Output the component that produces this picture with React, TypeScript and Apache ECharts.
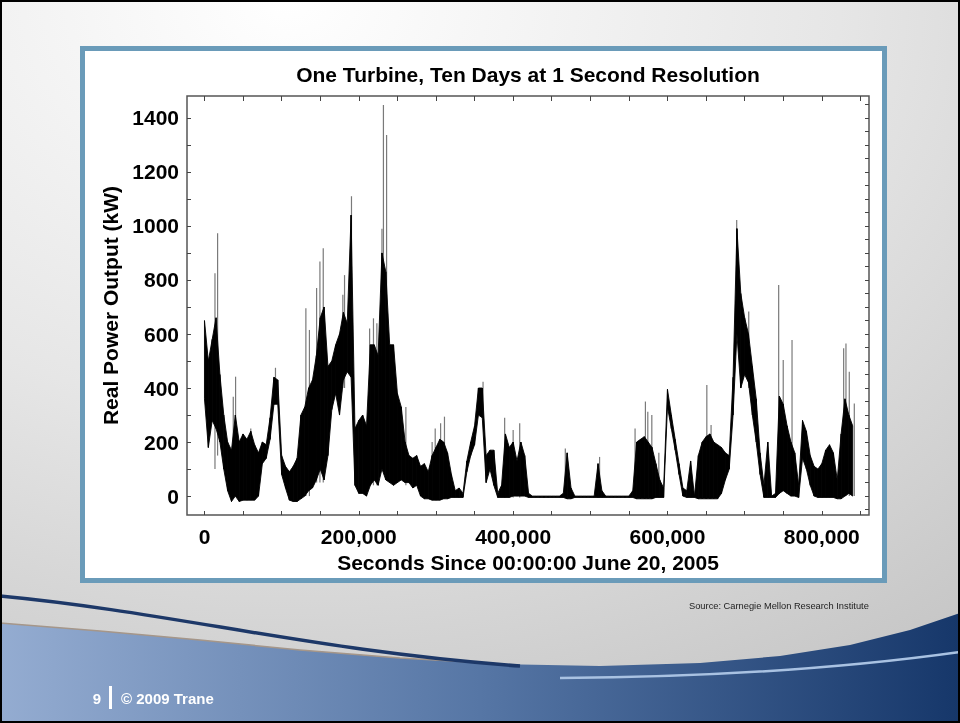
import React, { useEffect, useRef } from "react";
import * as echarts from "echarts";

// Envelope of the 1-second trace, read every 5,000 s (index * SAMPLE_STEP seconds)
const SAMPLE_STEP = 5000;
const upper = [
  650, 500, 580, 660, 450, 300, 200, 170, 300, 200,
  230, 210, 240, 190, 160, 200, 190, 290, 440, 430,
  150, 110, 90, 110, 140, 300, 330, 400, 430, 520,
  660, 700, 480, 500, 560, 600, 680, 640, 1040, 250,
  280, 300, 260, 560, 560, 520, 900, 830, 560, 560,
  380, 330, 200, 150, 140, 150, 110, 120, 90, 150,
  180, 210, 200, 160, 80, 20, 30, 10, 130, 200,
  260, 400, 400, 150, 170, 170, 10, 40, 230, 180,
  200, 130, 200, 150, 10, 0, 0, 0, 0, 0,
  0, 0, 0, 10, 160, 30, 0, 0, 0, 0,
  0, 0, 120, 20, 0, 0, 0, 0, 0, 0,
  0, 20, 200, 210, 220, 200, 180, 120, 60, 30,
  395, 300, 210, 120, 30, 20, 130, 0, 150, 200,
  220, 230, 200, 190, 180, 160, 150, 440, 990, 750,
  660, 600, 480, 360, 160, 40, 200, 0, 10, 370,
  340, 260, 200, 160, 40, 280, 240, 150, 110, 100,
  120, 170, 190, 160, 60, 230, 360, 300, 260,
];
const lower = [
  360, 180, 280, 250, 200, 100, 20, -20, 0, -20,
  -15, -15, -15, -15, 0, 120, 140, 210, 340, 340,
  80, 30, -15, -20, -20, -10, 0, 20, 30, 60,
  100, 60, 150, 320, 380, 300, 430, 460, 440, 40,
  10, 10, 0, 40, 60, 40, 100, 60, 50, 40,
  50, 60, 50, 50, 30, 40, 0, -10, -10, -15,
  -15, -15, -10, -10, -5, -5, -5, -5, 90, 150,
  190, 300, 290, 50, 100, 40, -5, -5, -5, -5,
  0, 0, 0, 0, -5, -5, -5, -5, -5, -5,
  -5, -5, -5, -5, -10, -10, -5, -5, -5, -5,
  -5, -5, -5, -5, -5, -5, -5, -5, -5, -5,
  -5, -5, -10, -10, -10, -10, -10, -5, -5, -5,
  330, 250, 170, 80, 0, -5, -5, -5, -10, -10,
  -10, -10, -10, -10, 10, 60, 100, 300, 600, 400,
  450, 420, 300, 200, 80, -5, -5, -5, -5, 10,
  20, 10, 0, 0, -5, 140, 100, 40, 0, -5,
  -5, -5, -5, -5, -10, -10, 0, 10, 0,
];

// Isolated tall gusts: [seconds, from kW, to kW]
const spikes = [
  [13600, 100, 825], [17000, 150, 973], [37300, 0, 368], [40300, 0, 442],
  [60000, 0, 250], [92000, 350, 475], [131400, 0, 695], [136000, 0, 615],
  [145300, 50, 770], [149600, 50, 868], [153900, 50, 917], [179300, 400, 745],
  [181500, 400, 818], [190500, 440, 1110], [214000, 40, 620], [219000, 40, 658],
  [223400, 40, 640], [230000, 100, 990], [231900, 100, 1448], [236000, 60, 1337],
  [261000, 40, 330], [295000, -10, 200], [299000, -10, 250], [306000, -10, 270],
  [311000, -10, 294], [361000, 290, 423], [389000, -5, 290], [400000, -5, 245],
  [408500, -5, 270], [467600, -5, 176], [512000, -5, 145], [558000, -5, 250],
  [571400, -10, 350], [574500, -10, 312], [579700, -10, 300], [588800, -5, 160],
  [651000, -10, 411], [656500, -10, 263], [689700, 600, 1022], [705300, 400, 683],
  [744100, 10, 781], [750000, 20, 504], [761400, 0, 578], [828300, 0, 547],
  [831300, 0, 565], [835600, 0, 460], [842100, 0, 343],
];

const xLabelValues = [0, 200000, 400000, 600000, 800000];
const xTickValues = [
  0, 50000, 100000, 150000, 200000, 250000, 300000, 350000, 400000,
  450000, 500000, 550000, 600000, 650000, 700000, 750000, 800000, 850000,
];
const yLabelValues = [0, 200, 400, 600, 800, 1000, 1200, 1400];
const yTickLeft = [0, 100, 200, 300, 400, 500, 600, 700, 800, 900, 1000, 1100, 1200, 1300, 1400];
const yTickRight = [
  -50, 0, 50, 100, 150, 200, 250, 300, 350, 400, 450, 500, 550, 600, 650, 700,
  750, 800, 850, 900, 950, 1000, 1050, 1100, 1150, 1200, 1250, 1300, 1350, 1400, 1450,
];

const TITLE = "One Turbine, Ten Days at 1 Second Resolution";
const X_NAME = "Seconds Since 00:00:00 June 20, 2005";
const Y_NAME = "Real Power Output (kW)";
const SOURCE = "Source: Carnegie Mellon Research Institute";
const PAGE_NO = "9";
const COPYRIGHT = "\u00a9 2009 Trane";

const FONT = "'Liberation Sans', Arial, Helvetica, sans-serif";

const fmt = (v: number) => String(v).replace(/\B(?=(\d{3})+(?!\d))/g, ",");

export default function App() {
  const ref = useRef<HTMLDivElement>(null);

  useEffect(() => {
    if (!ref.current) return;
    const chart = echarts.init(ref.current, undefined, { renderer: "svg" });
    const band = upper.map((h, i) => [i * SAMPLE_STEP, lower[i], h]);

    const tickStyle = { color: "#444", width: 1 };
    const xMin = -22650;
    const xMax = 861150;
    const yMin = -70;
    const yMax = 1481;
    const hiddenLine = { show: false, onZero: false };

    chart.setOption({
      animation: false,
      backgroundColor: "transparent",
      grid: {
        left: 187,
        top: 96,
        width: 682,
        height: 419,
        show: true,
        borderColor: "#555",
        borderWidth: 1.5,
        backgroundColor: "transparent",
        z: 5,
      },
      xAxis: [
        {
          type: "value",
          position: "bottom",
          min: xMin,
          max: xMax,
          z: 5,
          axisLine: hiddenLine,
          splitLine: { show: false },
          axisTick: { show: true, inside: true, length: 4, customValues: xTickValues, lineStyle: tickStyle },
          axisLabel: {
            customValues: xLabelValues,
            formatter: (v: number) => fmt(v),
            fontSize: 21,
            fontWeight: "bold",
            color: "#000",
            fontFamily: FONT,
            margin: 11,
          },
          name: X_NAME,
          nameLocation: "middle",
          nameGap: 37,
          nameTextStyle: { fontSize: 21, fontWeight: "bold", color: "#000", fontFamily: FONT },
        },
        {
          type: "value",
          position: "top",
          min: xMin,
          max: xMax,
          z: 5,
          axisLine: hiddenLine,
          splitLine: { show: false },
          axisLabel: { show: false },
          axisTick: { show: true, inside: true, length: 5, customValues: xTickValues, lineStyle: tickStyle },
        },
      ],
      yAxis: [
        {
          type: "value",
          position: "left",
          min: yMin,
          max: yMax,
          z: 5,
          axisLine: hiddenLine,
          splitLine: { show: false },
          axisTick: { show: true, inside: true, length: 4, customValues: yTickLeft, lineStyle: tickStyle },
          axisLabel: {
            customValues: yLabelValues,
            formatter: (v: number) => String(v),
            fontSize: 21,
            fontWeight: "bold",
            color: "#000",
            fontFamily: FONT,
            margin: 8,
          },
          name: Y_NAME,
          nameLocation: "middle",
          nameGap: 61,
          nameTextStyle: { fontSize: 21, fontWeight: "bold", color: "#000", fontFamily: FONT },
        },
        {
          type: "value",
          position: "right",
          min: yMin,
          max: yMax,
          z: 5,
          axisLine: hiddenLine,
          splitLine: { show: false },
          axisLabel: { show: false },
          axisTick: { show: true, inside: true, length: 4, customValues: yTickRight, lineStyle: tickStyle },
        },
      ],
      graphic: [
        {
          type: "rect",
          z: 0,
          silent: true,
          shape: { x: 0, y: 0, width: 960, height: 723 },
          style: {
            fill: new echarts.graphic.RadialGradient(0.3, 0, 1.15, [
              { offset: 0, color: "#ffffff" },
              { offset: 0.5, color: "#e6e6e6" },
              { offset: 1, color: "#c4c4c4" },
            ]),
          },
        },
        {
          type: "polygon",
          z: 0,
          silent: true,
          shape: {
            points: [
              [0, 623], [100, 631], [200, 640], [300, 650], [400, 658], [500, 664],
              [600, 666], [700, 663], [780, 656], [850, 645], [910, 630], [960, 613],
              [960, 723], [0, 723],
            ],
          },
          style: {
            fill: new echarts.graphic.LinearGradient(0, 0, 1, 0, [
              { offset: 0, color: "#94acd1" },
              { offset: 0.5, color: "#5676a5" },
              { offset: 1, color: "#16376a" },
            ]),
          },
        },
        {
          type: "polyline",
          z: 0,
          silent: true,
          shape: { points: [[0, 623], [100, 631], [200, 640], [300, 650], [400, 658], [470, 662]] },
          style: { stroke: "#a59689", lineWidth: 1.5, fill: "none" },
        },
        {
          type: "bezierCurve",
          z: 0,
          silent: true,
          shape: { x1: 0, y1: 596, cpx1: 170, cpy1: 612, cpx2: 320, cpy2: 652, x2: 520, y2: 666 },
          style: { stroke: "#1d3868", lineWidth: 3.5, fill: "none" },
        },
        {
          type: "bezierCurve",
          z: 0,
          silent: true,
          shape: { x1: 560, y1: 678, cpx1: 720, cpy1: 677, cpx2: 860, cpy2: 666, x2: 960, y2: 652 },
          style: { stroke: "#a9c2e2", lineWidth: 2.5, fill: "none" },
        },
        {
          type: "rect",
          z: 0,
          silent: true,
          shape: { x: 82.5, y: 48.5, width: 802, height: 532 },
          style: { fill: "#ffffff", stroke: "#6a9bb9", lineWidth: 5 },
        },
        {
          type: "text",
          z: 10,
          x: 528,
          y: 74,
          style: {
            text: TITLE,
            fontSize: 21,
            fontWeight: "bold",
            fontFamily: FONT,
            fill: "#000",
            align: "center",
            verticalAlign: "middle",
          },
        },
        {
          type: "text",
          z: 10,
          x: 689,
          y: 606,
          style: {
            text: SOURCE,
            fontSize: 9.3,
            fontFamily: FONT,
            fill: "#222",
            align: "left",
            verticalAlign: "middle",
          },
        },
        {
          type: "text",
          z: 10,
          x: 97,
          y: 698,
          style: {
            text: PAGE_NO,
            fontSize: 15,
            fontWeight: "bold",
            fontFamily: FONT,
            fill: "#fff",
            align: "center",
            verticalAlign: "middle",
          },
        },
        {
          type: "rect",
          z: 10,
          silent: true,
          shape: { x: 109, y: 686, width: 3, height: 23 },
          style: { fill: "#ffffff" },
        },
        {
          type: "text",
          z: 10,
          x: 121,
          y: 698,
          style: {
            text: COPYRIGHT,
            fontSize: 15,
            fontWeight: "bold",
            fontFamily: FONT,
            fill: "#fff",
            align: "left",
            verticalAlign: "middle",
          },
        },
        {
          type: "rect",
          z: 20,
          silent: true,
          shape: { x: 1, y: 1, width: 958, height: 721 },
          style: { fill: "none", stroke: "#000", lineWidth: 2 },
        },
      ],
      series: [
        {
          type: "custom",
          name: "gusts",
          xAxisIndex: 0,
          yAxisIndex: 0,
          z: 6,
          silent: true,
          data: spikes,
          encode: { x: 0, y: [1, 2] },
          renderItem: (_params: any, api: any) => {
            const a = api.coord([api.value(0), api.value(1)]);
            const b = api.coord([api.value(0), api.value(2)]);
            return {
              type: "line",
              shape: { x1: a[0], y1: a[1], x2: b[0], y2: b[1] },
              style: { stroke: "#7a7a7a", lineWidth: 1.2 },
            };
          },
        },
        {
          type: "custom",
          name: "Real Power Output",
          xAxisIndex: 0,
          yAxisIndex: 0,
          z: 7,
          silent: true,
          data: band,
          encode: { x: 0, y: [1, 2] },
          renderItem: (params: any, api: any) => {
            const i = params.dataIndex;
            if (i >= band.length - 1) return { type: "group", children: [] };
            const n = band[i + 1];
            const p1 = api.coord([api.value(0), api.value(1)]);
            const p2 = api.coord([api.value(0), api.value(2)]);
            const p3 = api.coord([n[0], n[2]]);
            const p4 = api.coord([n[0], n[1]]);
            return {
              type: "polygon",
              shape: { points: [p1, p2, p3, p4] },
              style: { fill: "#000", stroke: "#000", lineWidth: 0.9 },
            };
          },
        },
      ],
    });

    return () => chart.dispose();
  }, []);

  return (
    <div
      ref={ref}
      style={{ position: "fixed", left: 0, top: 0, width: 960, height: 723 }}
    />
  );
}
